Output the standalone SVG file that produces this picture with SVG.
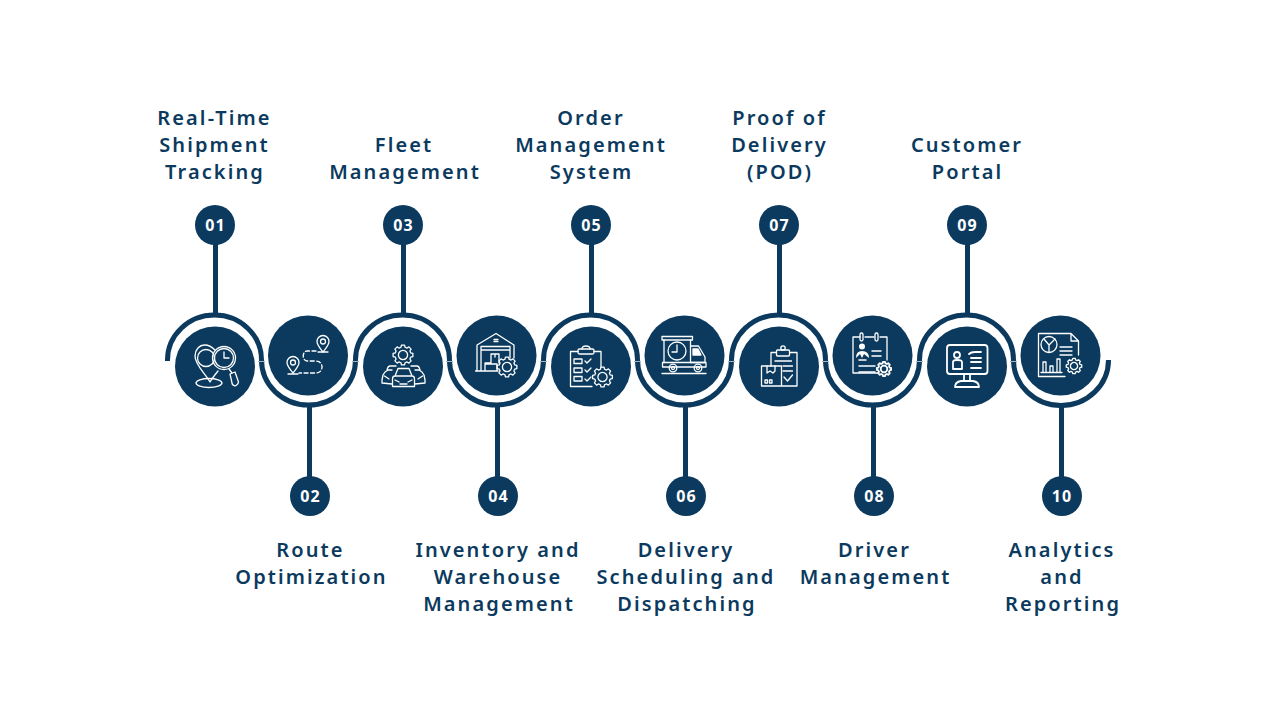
<svg xmlns="http://www.w3.org/2000/svg" width="1280" height="720" viewBox="0 0 1280 720">
<style>
.lb{font:600 20px "Noto Sans","Open Sans",sans-serif;letter-spacing:2.1px;fill:#0b3a5e;text-anchor:middle}
.nm{font:700 16px "Noto Sans","Open Sans",sans-serif;letter-spacing:1.2px;fill:#fff;text-anchor:middle}
.dot{fill:#0b3a5e}
.st{stroke:#0b3a5e;stroke-width:5;fill:none}
.ic{fill:none;stroke:#fff;stroke-width:1.3;stroke-linecap:round;stroke-linejoin:round}
.ic2{fill:none;stroke:#fff;stroke-width:1.8;stroke-linecap:round;stroke-linejoin:round}
.wh{fill:#fff;stroke:none}
.tick{stroke:#a3b5c2;stroke-width:1;fill:none}
</style>
<defs>
<g id="gear"><polygon vector-effect="non-scaling-stroke" points="7.73,-2.07 9.88,-1.56 9.88,1.56 7.73,2.07 6.93,4 8.09,5.88 5.88,8.09 4,6.93 2.07,7.73 1.56,9.88 -1.56,9.88 -2.07,7.73 -4,6.93 -5.88,8.09 -8.09,5.88 -6.93,4 -7.73,2.07 -9.88,1.56 -9.88,-1.56 -7.73,-2.07 -6.93,-4 -8.09,-5.88 -5.88,-8.09 -4,-6.93 -2.07,-7.73 -1.56,-9.88 1.56,-9.88 2.07,-7.73 4,-6.93 5.88,-8.09 8.09,-5.88 6.93,-4"/><circle vector-effect="non-scaling-stroke" r="4.6"/></g>
</defs>
<g id="connectors">
<path class="st" d="M167.500 361V360A47 45 0 0 1 261.500 360A47 45 0 0 0 355.500 360A47 45 0 0 1 449.500 360A47 45 0 0 0 543.500 360A47 45 0 0 1 637.500 360A47 45 0 0 0 731.500 360A47 45 0 0 1 825.500 360A47 45 0 0 0 919.500 360A47 45 0 0 1 1013.500 360A47 45 0 0 0 1108.500 360"/>
<path class="tick" d="M258 361.500h7M352 361.500h7M446 361.500h7M540 361.500h7M634 361.500h7M728 361.500h7M822 361.500h7M916 361.500h7M1010 361.500h7"/>
<path class="st" d="M215.500 240V316M403.500 240V316M591.500 240V316M779.500 240V316M967.500 240V316M309.500 404V480M497.500 404V480M685.500 404V480M873.500 404V480M1061.500 404V480"/>
</g>
<g id="node01"><circle class="dot" cx="215" cy="225" r="20"/><text class="nm" x="215.500" y="231">01</text>
<text class="lb" x="214.500" y="125">Real-Time</text><text class="lb" x="214.500" y="152">Shipment</text><text class="lb" x="215" y="179">Tracking</text>
<circle class="dot" cx="215" cy="366.500" r="40"/>
<g class="ic"><path d="M215 350C212 347 209 345 205 345C199 345 195 350 195 356C195 365 205 373 210 382C212 378 215 375 218 371"/><circle cx="206" cy="358" r="8.500"/><ellipse cx="209" cy="383" rx="13" ry="4.500"/><circle cx="224" cy="358" r="11.500"/><circle cx="224" cy="358" r="9.500"/><path d="M224 352V358H229M229 369L232 373M230 374L235 372L238.500 382Q238 385 235 386Q232 385 232 383Z"/></g></g>
<g id="node02"><circle class="dot" cx="310" cy="496" r="20"/><text class="nm" x="310.500" y="502">02</text>
<text class="lb" x="310.500" y="557">Route</text><text class="lb" x="311.500" y="584">Optimization</text>
<circle class="dot" cx="308" cy="355.500" r="40"/>
<g class="ic"><path d="M323 352C320 348 317 345 317 341.500A6 6 0 0 1 329 341.500C329 345 326 348 323 352ZM293 373C290 369 287 366 287 362.500A6 6 0 0 1 299 362.500C299 366 296 369 293 373Z"/><circle cx="323" cy="341.500" r="2.500"/><circle cx="293" cy="362.500" r="2.500"/><path d="M318 352H328M288 374H298"/><path stroke-dasharray="4 2.500" d="M316 351H307C302 351 302 361 307 361H316C324 361 324 373 316 373H299"/></g></g>
<g id="node03"><circle class="dot" cx="403" cy="225" r="20"/><text class="nm" x="403.500" y="231">03</text>
<text class="lb" x="404" y="152">Fleet</text><text class="lb" x="405" y="179">Management</text>
<circle class="dot" cx="403" cy="366.500" r="40"/>
<g class="ic"><use href="#gear" transform="translate(403 355)"/><path d="M395 376L398 368.500H409L412 376M392.500 386.500V379Q392.500 376 395 376H412Q414.500 376 414.500 379V386.500ZM395 380L399 382M412 380L408 382M400 384H407M392 370H388L385 372L383 375L382 380V383L392 384M396 366H390Q388 366 387 370M415 370H419L422 372L424 375L425 380V383L415 384M411 366H417Q419 366 420 370M384.500 376L389 379M422.500 376L418 379"/></g></g>
<g id="node04"><circle class="dot" cx="498" cy="496" r="20"/><text class="nm" x="498.500" y="502">04</text>
<text class="lb" x="498" y="557">Inventory and</text><text class="lb" x="498" y="584">Warehouse</text><text class="lb" x="499" y="611">Management</text>
<circle class="dot" cx="496.500" cy="355.500" r="40"/>
<g class="ic"><path d="M477 371V345L496 333.500L514 345V358M475.500 371H498M481 371V346.500H510V358M481 350H510M494 339.500H498M494 341.500H498M491 354H499V363M491 354V363H485V371M485 364H497V371M495 354V357"/></g>
<g class="ic"><use href="#gear" transform="translate(507 367)"/></g></g>
<g id="node05"><circle class="dot" cx="591" cy="225" r="20"/><text class="nm" x="591.500" y="231">05</text>
<text class="lb" x="591" y="125">Order</text><text class="lb" x="591" y="152">Management</text><text class="lb" x="591.500" y="179">System</text>
<circle class="dot" cx="591" cy="366.500" r="40"/>
<g class="ic"><path d="M578 351.500H570.500V386.500H592M594 351.500H601V367"/><rect x="578" y="349" width="16" height="5" rx="1.500"/><path d="M582 349C582 345 590 345 590 349"/><rect x="574" y="359" width="8" height="4.500"/><rect x="574" y="368" width="8" height="4.500"/><rect x="574" y="376.500" width="8" height="4.500"/><path d="M585 361L587 363L591 359M585 370L587 372L591 368M585 379L587 381L591 377"/><use href="#gear" transform="translate(602.500 377)"/></g></g>
<g id="node06"><circle class="dot" cx="686" cy="496" r="20"/><text class="nm" x="686.500" y="502">06</text>
<text class="lb" x="686" y="557">Delivery</text><text class="lb" x="686" y="584">Scheduling and</text><text class="lb" x="687" y="611">Dispatching</text>
<circle class="dot" cx="684.500" cy="355.500" r="40"/>
<g class="ic"><rect x="662" y="336.500" width="30.500" height="3.500"/><path d="M664 340V362.500M690.500 340V362.500M691 346H698.500L705 357V362.500H691"/><path d="M693 349H698L701 355H693Z" fill="#fff"/><circle cx="677" cy="351" r="9"/><path d="M677 345V352H672"/><rect x="662.500" y="362.500" width="43.500" height="4.500"/><circle cx="673" cy="368" r="3.800"/><circle cx="673" cy="368" r="1.500"/><circle cx="698" cy="368" r="3.800"/><circle cx="698" cy="368" r="1.500"/><path d="M662 373.500H706"/></g></g>
<g id="node07"><circle class="dot" cx="779" cy="225" r="20"/><text class="nm" x="779.500" y="231">07</text>
<text class="lb" x="779.500" y="125">Proof of</text><text class="lb" x="779.500" y="152">Delivery</text><text class="lb" x="780" y="179">(POD)</text>
<circle class="dot" cx="779" cy="366.500" r="40"/>
<g class="ic"><path d="M771 366V352.500H776M790 352.500H797V386H782"/><rect x="776.500" y="350" width="13" height="6" rx="1"/><circle cx="783" cy="348" r="2.200"/><path d="M775 361H791.500M783 366H792.500M783 371H792.500M784 377L787.500 381L792.500 375"/><rect x="761.500" y="366" width="20" height="20"/><path d="M767 366V373L770 371L773 373L775 371V366"/><rect x="765" y="380" width="2.500" height="3"/><rect x="769.500" y="380" width="2.500" height="3"/></g></g>
<g id="node08"><circle class="dot" cx="874" cy="496" r="20"/><text class="nm" x="874.500" y="502">08</text>
<text class="lb" x="874.500" y="557">Driver</text><text class="lb" x="875.500" y="584">Management</text>
<circle class="dot" cx="872.500" cy="355.500" r="40"/>
<g class="ic"><path d="M860 337H853V373H878M865 337H874M880 337H887V360"/><rect x="860" y="333" width="3" height="8" rx="1.500"/><rect x="875" y="333" width="3" height="8" rx="1.500"/></g>
<circle class="wh" cx="862" cy="346.500" r="3"/><path class="wh" d="M856 358Q856 351 862 351Q869 351 869 358L864 354L862 358L860 354Z"/>
<g class="ic"><path d="M872 351H881M872 356H881M859 360H866M859 366H875M859 372H875" stroke-width="1.500"/></g>
<g class="ic2"><use href="#gear" transform="translate(884 369) scale(.72)"/></g></g>
<g id="node09"><circle class="dot" cx="967" cy="225" r="20"/><text class="nm" x="967.500" y="231">09</text>
<text class="lb" x="967" y="152">Customer</text><text class="lb" x="967.500" y="179">Portal</text>
<circle class="dot" cx="967" cy="366.500" r="40"/>
<g class="ic2"><rect x="947" y="345" width="40.500" height="29" rx="3"/><circle cx="957" cy="355" r="3"/><path d="M953 369V362Q953 360 957 360Q962 360 962 362V369Z"/><path d="M969 354Q971 352 975 352H981M971 358H981M971 362H981M971 368H981M964 374V381M970 374V381M955 387Q955 382 961 381H973Q979 382 979 387Z"/></g></g>
<g id="node10"><circle class="dot" cx="1062" cy="496" r="20"/><text class="nm" x="1062" y="502">10</text>
<text class="lb" x="1062" y="557">Analytics</text><text class="lb" x="1062" y="584">and</text><text class="lb" x="1063" y="611">Reporting</text>
<circle class="dot" cx="1060.500" cy="355.500" r="40"/>
<g class="ic"><path d="M1071 333.500H1038.500V376.500H1065M1071 333.500L1078.500 341V355M1071 333.500V341H1078.500"/><circle cx="1049" cy="344.500" r="8"/><path d="M1049 345L1044 339M1049 345L1055 339M1049 345V352M1060 347H1072M1060 351H1072M1060 355H1072M1043 372V362H1046V372M1050 372V366H1053V372M1057 372V359H1060V372M1041 372.500H1062"/><use href="#gear" transform="translate(1074 366) scale(.78)"/></g></g>
</svg>
